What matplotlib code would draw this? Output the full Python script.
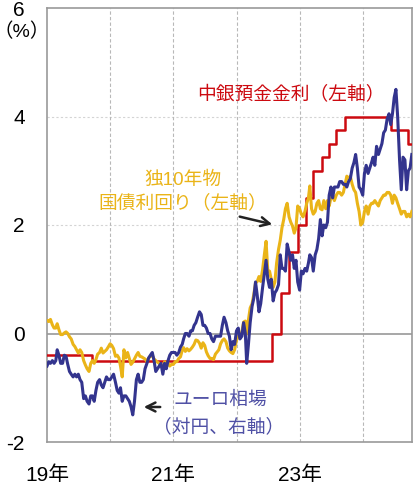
import pandas as pd
import matplotlib
matplotlib.use('Agg')
import matplotlib.pyplot as plt

plt.rcParams['font.family'] = ['Liberation Sans', 'Noto Sans CJK JP']
plt.rcParams['axes.unicode_minus'] = False

# sampling dates: 1st, 11th, 21st of each month
dates = pd.to_datetime([f'{y}-{m:02d}-{d:02d}' for y in range(2019, 2025)
                        for m in range(1, 13) for d in (1, 11, 21)])
dates = dates[dates <= '2024-10-11']

# German 10y bund yield (%)
bund_2019 = [0.24, 0.22, 0.26, 0.16, 0.10, 0.10, 0.18, 0.07, -0.02, -0.02, 0.01, 0.03,
             0.00, -0.06, -0.10, -0.20, -0.24, -0.30, -0.36, -0.30, -0.35, -0.50, -0.58, -0.65,
             -0.70, -0.55, -0.50, -0.55, -0.48, -0.38, -0.35, -0.27, -0.36, -0.33, -0.30, -0.25]
bund_2020 = [-0.19, -0.22, -0.28, -0.42, -0.40, -0.45, -0.60, -0.80, -0.30, -0.45, -0.35, -0.46,
             -0.57, -0.53, -0.47, -0.40, -0.35, -0.42, -0.43, -0.45, -0.47, -0.52, -0.45, -0.42,
             -0.40, -0.47, -0.50, -0.53, -0.55, -0.60, -0.63, -0.52, -0.57, -0.55, -0.60, -0.57]
bund_2021 = [-0.57, -0.52, -0.52, -0.46, -0.43, -0.31, -0.26, -0.33, -0.28, -0.32, -0.29, -0.25,
             -0.20, -0.12, -0.13, -0.18, -0.27, -0.17, -0.22, -0.34, -0.41, -0.46, -0.46, -0.48,
             -0.38, -0.34, -0.30, -0.19, -0.13, -0.10, -0.15, -0.27, -0.32, -0.35, -0.37, -0.30]
bund_2022 = [-0.12, -0.05, -0.06, 0.03, 0.21, 0.23, -0.01, 0.25, 0.47, 0.55, 0.72, 0.93,
             0.96, 1.05, 0.96, 1.18, 1.45, 1.70, 1.15, 1.15, 1.00, 0.85, 0.95, 1.30,
             1.55, 1.72, 1.95, 2.10, 2.30, 2.40, 2.15, 2.05, 1.98, 1.85, 1.95, 2.35]
bund_2023 = [2.30, 2.20, 2.15, 2.25, 2.40, 2.50, 2.72, 2.30, 2.20, 2.25, 2.40, 2.45,
             2.30, 2.28, 2.45, 2.30, 2.45, 2.35, 2.50, 2.55, 2.45, 2.55, 2.60, 2.60,
             2.55, 2.60, 2.75, 2.90, 2.85, 2.90, 2.75, 2.65, 2.60, 2.40, 2.25, 2.00]
bund_2024 = [2.05, 2.25, 2.35, 2.20, 2.35, 2.40, 2.40, 2.45, 2.40, 2.35, 2.45, 2.50,
             2.55, 2.55, 2.60, 2.60, 2.55, 2.40, 2.55, 2.50, 2.40, 2.30, 2.20, 2.25,
             2.25, 2.15, 2.20, 2.15, 2.25]

# EUR/JPY (right axis)
eurjpy_2019 = [124.0, 124.8, 124.5, 125.0, 124.5, 125.0, 127.0, 126.0, 124.5, 124.5, 126.0, 125.8,
               124.3, 123.0, 122.5, 122.0, 122.5, 122.0, 122.5, 121.5, 121.0, 118.0, 118.5, 117.5,
               117.0, 118.5, 118.5, 117.5, 119.5, 121.0, 121.5, 120.5, 120.0, 121.0, 122.0, 121.5]
eurjpy_2020 = [121.5, 122.0, 122.5, 121.0, 119.5, 119.0, 120.0, 117.5, 118.5, 118.5, 118.0, 117.5,
               116.5, 115.0, 117.5, 121.5, 122.5, 121.0, 121.0, 121.5, 123.5, 124.5, 125.5, 126.0,
               126.5, 125.0, 123.0, 123.5, 124.0, 124.5, 122.5, 124.5, 123.5, 125.0, 126.0, 126.5]
eurjpy_2021 = [126.5, 126.5, 126.0, 126.5, 127.5, 128.0, 129.0, 130.0, 130.0, 129.5, 130.5, 130.5,
               131.5, 132.0, 133.0, 134.0, 133.5, 131.5, 131.5, 131.0, 130.0, 130.0, 129.0, 128.5,
               129.5, 129.5, 129.5, 129.5, 131.5, 133.0, 132.0, 130.5, 129.5, 127.0, 128.5, 128.0]
eurjpy_2022 = [130.5, 131.0, 129.0, 129.5, 132.0, 130.0, 124.5, 128.0, 132.0, 135.0, 136.5, 139.5,
               137.0, 134.0, 135.5, 138.5, 141.0, 143.5, 140.0, 138.5, 140.0, 136.0, 137.5, 138.0,
               139.0, 144.5, 142.0, 142.0, 141.5, 146.5, 145.0, 143.5, 144.5, 142.0, 143.5, 139.5]
eurjpy_2023 = [138.0, 141.5, 141.0, 142.0, 141.5, 143.0, 144.5, 144.0, 141.5, 144.5, 145.5, 147.5,
               151.0, 148.0, 150.0, 149.5, 150.5, 155.5, 157.0, 155.0, 157.0, 157.0, 157.0, 158.0,
               158.0, 157.5, 157.5, 157.0, 158.0, 158.5, 160.5, 161.5, 163.0, 160.5, 157.0, 156.5]
eurjpy_2024 = [155.5, 159.5, 161.0, 159.5, 160.5, 161.5, 162.5, 161.0, 164.5, 163.0, 164.0, 165.0,
               167.0, 167.5, 169.5, 170.5, 168.5, 170.5, 173.5, 175.0, 170.0, 162.0, 156.5, 162.5,
               162.0, 156.5, 160.0, 160.5, 163.0]

# ECB deposit facility rate
ecb_dates = pd.to_datetime(['2019-01-01', '2019-09-18', '2022-07-27', '2022-09-14', '2022-11-02',
                            '2022-12-21', '2023-02-08', '2023-03-22', '2023-05-10', '2023-06-21',
                            '2023-08-02', '2023-09-20', '2024-06-12', '2024-09-18', '2024-10-12'])
ecb_rate = [-0.4, -0.5, 0.0, 0.75, 1.5, 2.0, 2.5, 3.0, 3.25, 3.5, 3.75, 4.0, 3.75, 3.5, 3.5]

bund = bund_2019 + bund_2020 + bund_2021 + bund_2022 + bund_2023 + bund_2024
eurjpy = eurjpy_2019 + eurjpy_2020 + eurjpy_2021 + eurjpy_2022 + eurjpy_2023 + eurjpy_2024

year_ticks = pd.to_datetime(['2019-01-01', '2020-01-01', '2021-01-01', '2022-01-01',
                             '2023-01-01', '2024-01-01'])
year_labels = ['19年', '', '21年', '', '23年', '']

RED = '#CC0A10'
GOLD = '#EAB418'
NAVY = '#33348E'

W, H = 416, 482
fig = plt.figure(figsize=(W / 100, H / 100), dpi=100)
ax = fig.add_axes([47 / W, 1 - 442 / H, 365 / W, 434 / H])

ax.plot(ecb_dates, ecb_rate, drawstyle='steps-post', color=RED, lw=1.8, zorder=3)
ax.plot(dates, bund, color=GOLD, lw=2.2, zorder=4)

ax2 = ax.twinx()
ax2.plot(dates, eurjpy, color=NAVY, lw=2.2)
ax2.set_ylim(110, 190)
ax2.set_yticks([])
for s in ax2.spines.values():
    s.set_visible(False)

ax.set_xlim(pd.Timestamp('2019-01-01'), pd.Timestamp('2024-10-12'))
ax.set_ylim(-2, 6)
ax.set_yticks([-2, 0, 2, 4, 6])
ax.set_xticks(year_ticks)
ax.set_xticklabels(year_labels)
ax.tick_params(axis='y', length=0, pad=16, labelsize=15)
ax.tick_params(axis='x', length=0, pad=17, labelsize=15)

for y in (2, 4):
    ax.axhline(y, color='#d4d4d4', lw=0.8, ls=(0, (2, 2)), zorder=1)
for t in year_ticks[1:]:
    ax.axvline(t, color='#b8b8b8', lw=0.8, ls=(0, (3, 2)), zorder=1)
ax.axhline(0, color='#a0a0a0', lw=1.3, zorder=2)

for s in ax.spines.values():
    s.set_color('#999999')
    s.set_linewidth(1.2)

fig.text(22 / W, 1 - 32 / H, '（%）', fontsize=14, ha='center', va='center')

fig.text(291 / W, 1 - 95 / H, '中銀預金金利（左軸）', fontsize=13.5, color=RED,
         ha='center', va='center')
fig.text(183 / W, 1 - 180 / H, '独10年物', fontsize=13.5, color=GOLD, ha='center', va='center')
fig.text(183 / W, 1 - 203 / H, '国債利回り（左軸）', fontsize=13.5, color=GOLD,
         ha='center', va='center')
fig.text(220 / W, 1 - 400 / H, 'ユーロ相場', fontsize=13.5, color='#4F50A5',
         ha='center', va='center')
fig.text(219 / W, 1 - 427 / H, '（対円、右軸）', fontsize=13.5, color='#4F50A5',
         ha='center', va='center')

arrow = dict(arrowstyle='->', color='#222222', lw=1.8, mutation_scale=16)
fig.add_artist(matplotlib.patches.FancyArrowPatch(
    (237 / W, 1 - 216 / H), (275 / W, 1 - 225 / H), transform=fig.transFigure, **arrow))
fig.add_artist(matplotlib.patches.FancyArrowPatch(
    (163 / W, 1 - 407 / H), (141 / W, 1 - 407 / H), transform=fig.transFigure, **arrow))

fig.savefig('out.png', dpi=100)
